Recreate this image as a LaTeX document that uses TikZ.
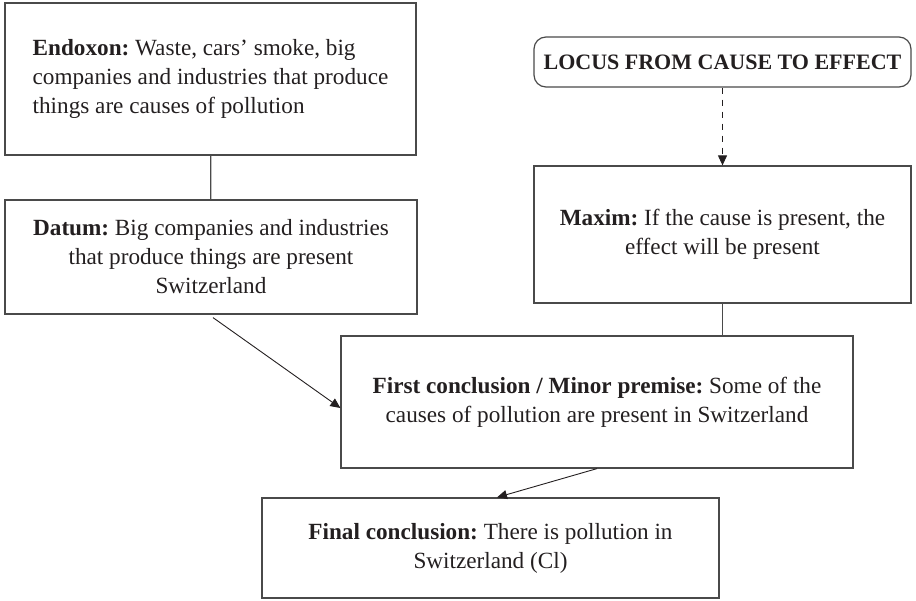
\documentclass[tikz,border=0pt]{standalone}
\usepackage{fontspec}
\setmainfont{Liberation Serif}
\usepackage{tikz}
\usetikzlibrary{arrows.meta}
\definecolor{inkcol}{HTML}{231F20}
\definecolor{linecol}{HTML}{4A4A4A}
\frenchspacing

\begin{document}
\begin{tikzpicture}[x=0.5pt, y=-0.5pt,
  every node/.style={font=\fontsize{11.6}{14.5}\selectfont, text=inkcol},
  argbox/.style={draw=linecol, line width=0.6pt, inner sep=0pt, align=center},
  tip/.style={-{Triangle[length=5pt, width=4.5pt]}, draw=inkcol, line width=0.45pt}]
\useasboundingbox (0,0) rectangle (916,600);

% centres of the boxes
\coordinate (E) at (210.5, 79);
\coordinate (D) at (211, 257);
\coordinate (L) at (722.5, 62);
\coordinate (M) at (722.5, 234.5);
\coordinate (F) at (597, 402);
\coordinate (C) at (490.5, 548);
%

\node[argbox, minimum width=205.5pt, minimum height=76pt, align=left] (endoxon) at (E)
  {\textbf{Endoxon:} Waste, cars’ smoke, big\\ companies and industries that produce\\ things are causes of pollution};
\node[argbox, minimum width=206pt, minimum height=57pt] (datum) at (D)
  {\textbf{Datum:} Big companies and industries\\ that produce things are present\\ Switzerland};
\node[argbox, rounded corners=6pt, minimum width=188.5pt, minimum height=25pt,
  font=\fontsize{11}{14.5}\selectfont] (locus) at (L)
  {\textbf{LOCUS FROM CAUSE TO EFFECT}};
\node[argbox, minimum width=188.5pt, minimum height=68.5pt] (maxim) at (M)
  {\textbf{Maxim:} If the cause is present, the\\ effect will be present};
\node[argbox, minimum width=256pt, minimum height=66pt] (first) at (F)
  {\textbf{First conclusion / Minor premise:} Some of the\\ causes of pollution are present in Switzerland};
\node[argbox, minimum width=228.5pt, minimum height=50pt] (final) at (C)
  {\textbf{Final conclusion:} There is pollution in\\ Switzerland (Cl)};

% links
\draw[draw=linecol, line width=0.6pt] (endoxon) -- (datum);
\draw[tip, dashed] (locus) -- (maxim);
\draw[draw=linecol, line width=0.6pt] (maxim) -- (first.north -| maxim.south);
\draw[tip] ([xshift=1pt, yshift=-1.5pt]datum.south) -- ([yshift=-3pt]first.west);
\draw[tip] (first.south) -- ([xshift=3.25pt]final.north);
\end{tikzpicture}
\end{document}
